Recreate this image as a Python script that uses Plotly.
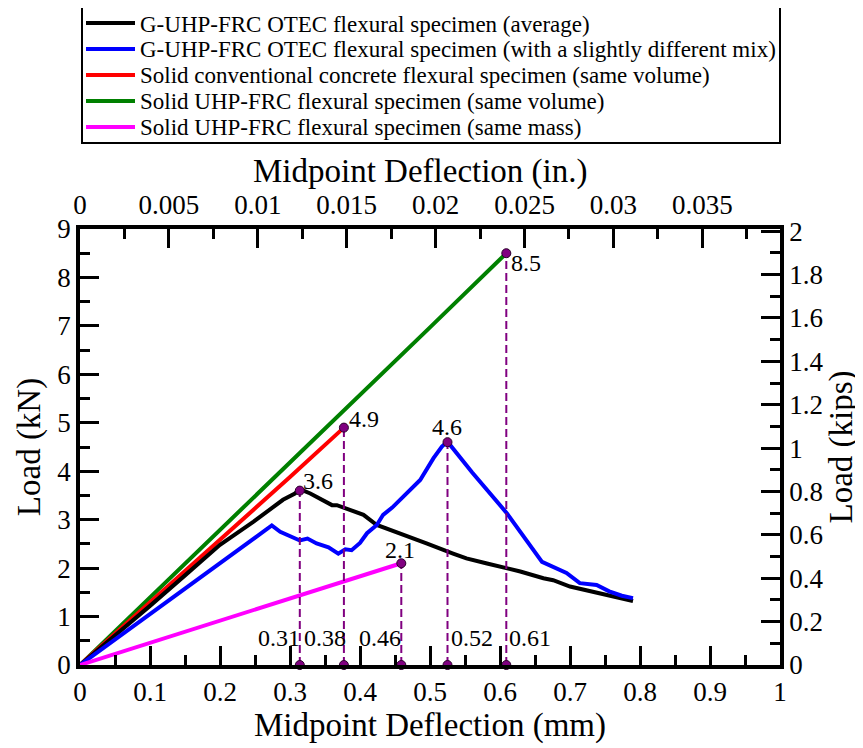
import plotly.graph_objects as go

# ---------------- data ----------------
avg_x = [0, 0.05, 0.1, 0.15, 0.2, 0.248, 0.29, 0.307, 0.314, 0.329, 0.345, 0.36, 0.367,
         0.385, 0.405, 0.424, 0.457, 0.495, 0.533, 0.552, 0.58, 0.61, 0.629, 0.662,
         0.676, 0.7, 0.743, 0.77, 0.79]
avg_y = [0, 0.6, 1.22, 1.85, 2.48, 2.96, 3.41, 3.54, 3.63, 3.54, 3.42, 3.30, 3.30,
         3.21, 3.10, 2.89, 2.72, 2.51, 2.30, 2.20, 2.10, 2.00, 1.93, 1.79,
         1.75, 1.62, 1.48, 1.40, 1.32]

mix_x = [0, 0.05, 0.1, 0.15, 0.2, 0.25, 0.274, 0.286, 0.3, 0.314, 0.325, 0.338, 0.355,
         0.369, 0.379, 0.388, 0.40, 0.41, 0.424, 0.433, 0.446, 0.46, 0.486, 0.505,
         0.517, 0.525, 0.56, 0.61, 0.66, 0.695, 0.714, 0.738, 0.756, 0.774, 0.79]
mix_y = [0, 0.53, 1.05, 1.58, 2.1, 2.63, 2.88, 2.75, 2.66, 2.57, 2.61, 2.51, 2.43,
         2.30, 2.39, 2.37, 2.52, 2.72, 2.89, 3.10, 3.25, 3.44, 3.82, 4.27,
         4.51, 4.61, 3.98, 3.13, 2.13, 1.90, 1.69, 1.65, 1.52, 1.43, 1.38]

conv_x = [0, 0.1, 0.2, 0.3, 0.377]
conv_y = [0, 1.29, 2.58, 3.88, 4.9]

uhp_vol_x = [0, 0.1, 0.2, 0.3, 0.4, 0.5, 0.609]
uhp_vol_y = [0, 1.39, 2.79, 4.18, 5.58, 6.97, 8.5]

uhp_mass_x = [0, 0.1, 0.2, 0.3, 0.459]
uhp_mass_y = [0, 0.46, 0.92, 1.37, 2.1]

peak_x = [0.314, 0.377, 0.459, 0.525, 0.609]
peak_y = [3.6, 4.9, 2.1, 4.6, 8.5]
peak_labels = ["3.6", "4.9", "2.1", "4.6", "8.5"]
defl_labels = ["0.31", "0.38", "0.46", "0.52", "0.61"]

series_names = [
    "G-UHP-FRC OTEC flexural specimen (average)",
    "G-UHP-FRC OTEC flexural specimen (with a slightly different mix)",
    "Solid conventional concrete flexural specimen (same volume)",
    "Solid UHP-FRC flexural specimen (same volume)",
    "Solid UHP-FRC flexural specimen (same mass)",
]
series_colors = ["#000000", "#0000FF", "#FF0000", "#008000", "#FF00FF"]

bottom_ticks = [0, 0.1, 0.2, 0.3, 0.4, 0.5, 0.6, 0.7, 0.8, 0.9, 1]
top_ticks = [0, 0.005, 0.01, 0.015, 0.02, 0.025, 0.03, 0.035]
top_tick_text = ["0", "0.005", "0.01", "0.015", "0.02", "0.025", "0.03", "0.035"]
left_ticks = [0, 1, 2, 3, 4, 5, 6, 7, 8, 9]
right_ticks = [0, 0.2, 0.4, 0.6, 0.8, 1, 1.2, 1.4, 1.6, 1.8, 2]
right_tick_text = ["0", "0.2", "0.4", "0.6", "0.8", "1", "1.2", "1.4", "1.6", "1.8", "2"]

# ---------------- layout geometry ----------------
# page body has an 8px margin, so the figure sits at (8, 8) in the window
OFF = 8
W, H = 863 - OFF, 748 - OFF
SL, SR, ST, SB = 80, 780, 229, 665          # plot area edges in window pixels
L, T = SL - OFF, ST - OFF
R, B = W - (SR - OFF), H - (SB - OFF)
PW, PH = SR - SL, SB - ST
FONT = "Liberation Serif"
PURPLE = "#800080"


def px_x(p):
    return (p - SL) / PW


def px_y(p):
    return (SB - p) / PH


fig = go.Figure()

xs = [uhp_vol_x, conv_x, avg_x, mix_x, uhp_mass_x]
ys = [uhp_vol_y, conv_y, avg_y, mix_y, uhp_mass_y]
order = [3, 2, 0, 1, 4]
for k, i in enumerate(order):
    fig.add_trace(go.Scatter(
        x=xs[k], y=ys[k], mode="lines", name=series_names[i],
        line=dict(color=series_colors[i], width=4), showlegend=False,
    ))

# dashed verticals with dots
for px_, py_ in zip(peak_x, peak_y):
    fig.add_trace(go.Scatter(
        x=[px_, px_], y=[0, py_], mode="lines+markers",
        line=dict(color=PURPLE, width=2, dash="8px,4px"),
        marker=dict(size=9, color=PURPLE, line=dict(color="#2a002a", width=1)),
        showlegend=False, cliponaxis=False, hoverinfo="skip",
    ))

# empty trace so the secondary (inch / kip) axes are drawn
fig.add_trace(go.Scatter(x=[], y=[], xaxis="x2", yaxis="y2", showlegend=False,
                         hoverinfo="skip"))

ann = []
peak_style = [
    dict(xanchor="left", yanchor="middle", xshift=1, yshift=10),
    dict(xanchor="left", yanchor="middle", xshift=3, yshift=9),
    dict(xanchor="center", yanchor="middle", xshift=-1, yshift=13),
    dict(xanchor="center", yanchor="middle", xshift=-1, yshift=15),
    dict(xanchor="left", yanchor="middle", xshift=3, yshift=-10),
]
for px_, py_, lab, st in zip(peak_x, peak_y, peak_labels, peak_style):
    ann.append(dict(x=px_, y=py_, xref="x", yref="y", text=lab, showarrow=False,
                    font=dict(family=FONT, size=24, color="black"), **st))

defl_style = [
    dict(xanchor="right", xshift=2),
    dict(xanchor="right", xshift=4),
    dict(xanchor="right", xshift=2),
    dict(xanchor="left", xshift=1),
    dict(xanchor="left", xshift=1),
]
for px_, lab, st in zip(peak_x, defl_labels, defl_style):
    ann.append(dict(x=px_, y=0.56, xref="x", yref="y", text=lab, showarrow=False,
                    yanchor="middle", font=dict(family=FONT, size=24, color="black"), **st))

# top axis title
ann.append(dict(x=px_x(420), y=px_y(172), xref="paper", yref="paper",
                text="Midpoint Deflection (in.)", showarrow=False,
                xanchor="center", yanchor="middle",
                font=dict(family=FONT, size=33, color="black")))

# manual legend
shapes = [dict(type="rect", xref="paper", yref="paper",
               x0=px_x(82), x1=px_x(780), y0=px_y(143), y1=px_y(7),
               line=dict(color="black", width=2), fillcolor="white", layer="above")]
row_y = [23, 49, 75, 101, 127]
for i in range(5):
    shapes.append(dict(type="line", xref="paper", yref="paper",
                       x0=px_x(86), x1=px_x(135), y0=px_y(row_y[i]), y1=px_y(row_y[i]),
                       line=dict(color=series_colors[i], width=4), layer="above"))
    ann.append(dict(x=px_x(138), y=px_y(row_y[i] + 1), xref="paper", yref="paper",
                    text=series_names[i], showarrow=False, xanchor="left", yanchor="middle",
                    font=dict(family=FONT, size=23, color="black")))

axis_common = dict(
    showline=True, linecolor="black", linewidth=3.5, showgrid=False, zeroline=False,
    ticks="inside", ticklen=19, tickwidth=3, tickcolor="black",
    tickfont=dict(family=FONT, size=27, color="black"),
)
minor_common = dict(ticks="inside", ticklen=10, tickwidth=3, tickcolor="black", tick0=0)

fig.update_layout(
    width=W, height=H,
    margin=dict(l=L, r=R, t=T, b=B, autoexpand=False),
    paper_bgcolor="white", plot_bgcolor="white",
    font=dict(family=FONT, color="black"),
    showlegend=False,
    xaxis=dict(range=[0, 1], tickvals=bottom_ticks,
               minor=dict(dtick=0.05, **minor_common),
               title=dict(text="Midpoint Deflection (mm)", font=dict(family=FONT, size=33), standoff=6),
               automargin=False, **axis_common),
    xaxis2=dict(range=[0, 1 / 25.4], overlaying="x", side="top", anchor="y",
                tickvals=top_ticks, ticktext=top_tick_text,
                minor=dict(dtick=0.0025, **minor_common),
                automargin=False, **axis_common),
    yaxis=dict(range=[0, 9], tickvals=left_ticks,
               minor=dict(dtick=0.5, **minor_common),
               title=dict(text="Load (kN)", font=dict(family=FONT, size=33), standoff=8),
               automargin=False, **axis_common),
    yaxis2=dict(range=[0, 2.01], overlaying="y", side="right", anchor="x",
                tickvals=right_ticks, ticktext=right_tick_text,
                minor=dict(dtick=0.1, **minor_common),
                title=dict(text="Load (kips)", font=dict(family=FONT, size=33), standoff=4),
                automargin=False, **axis_common),
    annotations=ann,
    shapes=shapes,
)

fig.write_html("out.html")
